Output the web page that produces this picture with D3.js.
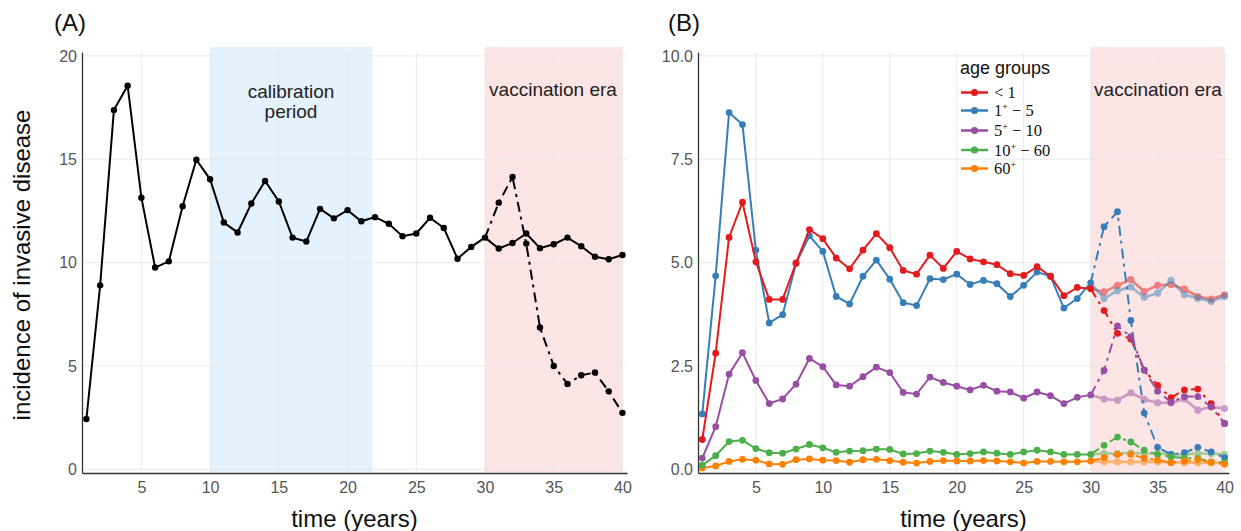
<!DOCTYPE html>
<html><head><meta charset="utf-8">
<script src="https://cdn.jsdelivr.net/npm/d3@7"></script>
<style>body{margin:0;background:#fff}svg{display:block}</style>
</head><body>
<svg id="c" width="1241" height="531"></svg>
<script>
const years = d3.range(1, 41);
const vacYears = d3.range(30, 41);
const xTicks = [5, 10, 15, 20, 25, 30, 35, 40];
const yTicksA = [0, 5, 10, 15, 20];
const yTicksB = [0, 2.5, 5, 7.5, 10];

// Panel A: total incidence
const totalBase = [2.43, 8.9, 17.38, 18.56, 13.14, 9.76, 10.06, 12.73, 14.98, 14.03,
  11.94, 11.46, 12.86, 13.95, 12.96, 11.21, 11.02, 12.6, 12.14, 12.54,
  12.0, 12.2, 11.88, 11.28, 11.41, 12.17, 11.68, 10.19, 10.76, 11.21,
  10.68, 10.95, 11.41, 10.7, 10.89, 11.21, 10.79, 10.28, 10.16, 10.37];
const totalVac = [11.21, 12.9, 14.14, 10.92, 6.86, 5.0, 4.13, 4.55, 4.68, 3.77, 2.73];

// Panel B: age groups (years 1-40 without vaccination; years 30-40 with vaccination)
const groupNames = ["<1", "1+-5", "5+-10", "10+-60", "60+"];
const groupColors = ["#e41a1c", "#377eb8", "#984ea3", "#4daf4a", "#ff7f00"];
const lt1 = [0.72, 2.81, 5.61, 6.46, 5.02, 4.11, 4.11, 4.99, 5.8, 5.58,
  5.11, 4.85, 5.3, 5.7, 5.36, 4.81, 4.72, 5.18, 4.86, 5.27,
  5.09, 5.02, 4.95, 4.73, 4.69, 4.9, 4.67, 4.2, 4.4, 4.37,
  4.29, 4.45, 4.59, 4.3, 4.45, 4.47, 4.36, 4.18, 4.12, 4.22];
const lt1Vac = [4.37, 3.84, 3.29, 3.15, 2.4, 2.03, 1.73, 1.92, 1.94, 1.59, 1.11];
const g1to5 = [1.34, 4.68, 8.63, 8.34, 5.3, 3.54, 3.74, 4.98, 5.65, 5.27,
  4.18, 4.0, 4.67, 5.06, 4.6, 4.03, 3.96, 4.61, 4.59, 4.72,
  4.47, 4.57, 4.49, 4.18, 4.45, 4.77, 4.67, 3.9, 4.13, 4.51,
  4.13, 4.32, 4.41, 4.16, 4.26, 4.57, 4.22, 4.14, 4.06, 4.18];
const g1to5Vac = [4.51, 5.87, 6.23, 3.6, 1.36, 0.53, 0.36, 0.4, 0.53, 0.42, 0.28];
const g5to10 = [0.27, 1.03, 2.3, 2.82, 2.15, 1.59, 1.7, 2.06, 2.68, 2.48,
  2.04, 2.01, 2.24, 2.47, 2.34, 1.86, 1.82, 2.23, 2.1, 2.01,
  1.92, 2.03, 1.89, 1.87, 1.72, 1.87, 1.78, 1.59, 1.74, 1.8,
  1.7, 1.67, 1.85, 1.69, 1.61, 1.61, 1.7, 1.43, 1.51, 1.47];
const g5to10Vac = [1.8, 2.39, 3.47, 3.21, 2.4, 1.89, 1.62, 1.76, 1.76, 1.51, 1.11];
const g10to60 = [0.1, 0.33, 0.67, 0.7, 0.5, 0.4, 0.39, 0.49, 0.6, 0.52,
  0.41, 0.44, 0.45, 0.49, 0.48, 0.37, 0.38, 0.44, 0.41, 0.36,
  0.38, 0.42, 0.39, 0.36, 0.42, 0.46, 0.42, 0.36, 0.36, 0.36,
  0.38, 0.38, 0.4, 0.38, 0.38, 0.36, 0.36, 0.38, 0.38, 0.36];
const g10to60Vac = [0.36, 0.58, 0.78, 0.66, 0.46, 0.36, 0.3, 0.27, 0.26, 0.18, 0.16];
const g60p = [0.03, 0.08, 0.19, 0.24, 0.22, 0.13, 0.12, 0.23, 0.25, 0.22,
  0.21, 0.17, 0.23, 0.24, 0.21, 0.17, 0.15, 0.19, 0.21, 0.2,
  0.2, 0.21, 0.2, 0.18, 0.15, 0.19, 0.19, 0.18, 0.18, 0.2,
  0.18, 0.18, 0.18, 0.18, 0.18, 0.17, 0.16, 0.16, 0.16, 0.15];
const g60pVac = [0.2, 0.28, 0.36, 0.36, 0.27, 0.22, 0.16, 0.2, 0.23, 0.17, 0.12];

const baseSeries = [lt1, g1to5, g5to10, g10to60, g60p];
const vacSeries = [lt1Vac, g1to5Vac, g5to10Vac, g10to60Vac, g60pVac];

const svg = d3.select("#c");
const FONT = "'Liberation Sans', Arial, Helvetica, sans-serif";
const SERIF = "'Liberation Serif', 'Times New Roman', serif";
const dashPat = "10,5,3,5";

function panel(cfg) {
  const g = svg.append("g");
  const x = d3.scaleLinear().domain([0.68, 40.33]).range([cfg.left, cfg.right]);
  const y = d3.scaleLinear().domain([cfg.ymax * -0.009, cfg.ymax * 1.0095]).range([cfg.bottom, cfg.top]);
  (cfg.shades || []).forEach(s => {
    g.append("rect").attr("x", x(s.x0)).attr("width", x(s.x1) - x(s.x0))
      .attr("y", cfg.top - 5).attr("height", cfg.bottom - cfg.top + 4)
      .attr("fill", s.color);
  });
  g.append("g").selectAll("line").data(cfg.yTicks).join("line")
    .attr("x1", cfg.left).attr("x2", cfg.right)
    .attr("y1", d => y(d)).attr("y2", d => y(d))
    .attr("stroke", "#e6e6e6").attr("stroke-width", 1).attr("opacity", 0.8);
  g.append("g").selectAll("line").data(xTicks).join("line")
    .attr("y1", cfg.top).attr("y2", cfg.bottom)
    .attr("x1", d => x(d)).attr("x2", d => x(d))
    .attr("stroke", "#e6e6e6").attr("stroke-width", 1).attr("opacity", 0.8);
  const ax = d3.axisBottom(x).tickValues(xTicks).tickSize(0).tickPadding(9);
  const gx = g.append("g").attr("transform", `translate(0,${cfg.bottom})`).call(ax);
  gx.select(".domain").attr("stroke", "#333").attr("stroke-width", 1.3);
  gx.selectAll("text").attr("font-family", FONT).attr("font-size", 16).attr("fill", "#555");
  const ay = d3.axisLeft(y).tickValues(cfg.yTicks).tickSize(0).tickPadding(5).tickFormat(cfg.yFmt);
  const gy = g.append("g").attr("transform", `translate(${cfg.left},0)`).call(ay);
  gy.select(".domain").attr("stroke", "#333").attr("stroke-width", 1.3);
  gy.selectAll("text").attr("font-family", FONT).attr("font-size", 16).attr("fill", "#555");
  g.append("text").attr("x", (cfg.left + cfg.right) / 2).attr("y", 527)
    .attr("text-anchor", "middle").attr("font-family", FONT).attr("font-size", 24)
    .attr("fill", "#111").text("time (years)");
  return {g, x, y};
}

// ---------- Panel A ----------
const A = panel({left: 82, right: 627, top: 52, bottom: 473, ymax: 20,
  yTicks: yTicksA, yFmt: d3.format("d"),
  shades: [{x0: 10, x1: 21.8, color: "#e3f2fd"}, {x0: 30, x1: 40, color: "#fce5e4"}]});
const lineA = d3.line().x(d => A.x(d[0])).y(d => A.y(d[1]));
const ptsBase = years.map((t, i) => [t, totalBase[i]]);
const ptsVac = vacYears.map((t, i) => [t, totalVac[i]]);
A.g.append("path").attr("d", lineA(ptsVac)).attr("fill", "none").attr("stroke", "#000")
  .attr("stroke-width", 2).attr("stroke-dasharray", dashPat);
A.g.append("path").attr("d", lineA(ptsBase)).attr("fill", "none").attr("stroke", "#000").attr("stroke-width", 2);
A.g.append("g").selectAll("circle").data(ptsBase.concat(ptsVac.slice(1))).join("circle")
  .attr("cx", d => A.x(d[0])).attr("cy", d => A.y(d[1])).attr("r", 3.2).attr("fill", "#000");
A.g.append("text").attr("x", 291).attr("y", 98).attr("text-anchor", "middle")
  .attr("font-family", FONT).attr("font-size", 19).attr("fill", "#222").text("calibration");
A.g.append("text").attr("x", 291).attr("y", 118).attr("text-anchor", "middle")
  .attr("font-family", FONT).attr("font-size", 19).attr("fill", "#222").text("period");
A.g.append("text").attr("x", 553).attr("y", 96).attr("text-anchor", "middle")
  .attr("font-family", FONT).attr("font-size", 19).attr("fill", "#222").text("vaccination era");
svg.append("text").attr("x", 54).attr("y", 31).attr("font-family", FONT).attr("font-size", 24)
  .attr("fill", "#111").text("(A)");
svg.append("text").attr("transform", "translate(30,265) rotate(-90)").attr("text-anchor", "middle")
  .attr("font-family", FONT).attr("font-size", 24).attr("fill", "#111").text("incidence of invasive disease");

// ---------- Panel B ----------
const B = panel({left: 698, right: 1229, top: 52, bottom: 473, ymax: 10,
  yTicks: yTicksB, yFmt: d3.format(".1f"),
  shades: [{x0: 30, x1: 40, color: "#fce5e4"}]});
const lineB = d3.line().x(d => B.x(d[0])).y(d => B.y(d[1]));
baseSeries.forEach((s, k) => {
  const pts = years.map((t, i) => [t, s[i]]).filter(d => d[0] >= 30);
  const gg = B.g.append("g").attr("opacity", 0.5);
  gg.append("path").attr("d", lineB(pts)).attr("fill", "none").attr("stroke", groupColors[k]).attr("stroke-width", 2.6);
  gg.selectAll("circle").data(pts.slice(1)).join("circle")
    .attr("cx", d => B.x(d[0])).attr("cy", d => B.y(d[1])).attr("r", 3.6).attr("fill", groupColors[k]);
});
vacSeries.forEach((s, k) => {
  const pts = vacYears.map((t, i) => [t, s[i]]);
  B.g.append("path").attr("d", lineB(pts)).attr("fill", "none").attr("stroke", groupColors[k])
    .attr("stroke-width", 2).attr("stroke-dasharray", dashPat);
  B.g.append("g").selectAll("circle").data(pts.slice(1)).join("circle")
    .attr("cx", d => B.x(d[0])).attr("cy", d => B.y(d[1])).attr("r", 3.4).attr("fill", groupColors[k]);
});
[4, 3, 2, 1, 0].forEach(k => {
  const pts = years.map((t, i) => [t, baseSeries[k][i]]).filter(d => d[0] <= 30);
  B.g.append("path").attr("d", lineB(pts)).attr("fill", "none").attr("stroke", groupColors[k]).attr("stroke-width", 2);
  B.g.append("g").selectAll("circle").data(pts).join("circle")
    .attr("cx", d => B.x(d[0])).attr("cy", d => B.y(d[1])).attr("r", 3.4).attr("fill", groupColors[k]);
});
B.g.append("text").attr("x", 1158).attr("y", 96).attr("text-anchor", "middle")
  .attr("font-family", FONT).attr("font-size", 19).attr("fill", "#222").text("vaccination era");
svg.append("text").attr("x", 668).attr("y", 31).attr("font-family", FONT).attr("font-size", 24)
  .attr("fill", "#111").text("(B)");

// legend
const leg = svg.append("g");
leg.append("text").attr("x", 960).attr("y", 74).attr("font-family", FONT).attr("font-size", 18)
  .attr("fill", "#111").text("age groups");
const legY = [92.5, 110.5, 130.5, 150, 168.5];
const legParts = [
  [["< 1", false]],
  [["1", false], ["+", true], [" \u2212 5", false]],
  [["5", false], ["+", true], [" \u2212 10", false]],
  [["10", false], ["+", true], [" \u2212 60", false]],
  [["60", false], ["+", true]]
];
groupNames.forEach((name, k) => {
  const yy = legY[k];
  leg.append("line").attr("x1", 961).attr("x2", 988).attr("y1", yy).attr("y2", yy)
    .attr("stroke", groupColors[k]).attr("stroke-width", 2.5);
  leg.append("circle").attr("cx", 974.5).attr("cy", yy).attr("r", 3.6).attr("fill", groupColors[k]);
  const t = leg.append("text").attr("x", 994).attr("y", yy + 5.5).attr("font-family", SERIF)
    .attr("font-size", 16.5).attr("fill", "#111");
  legParts[k].forEach(([s, sup]) => {
    const ts = t.append("tspan").text(s);
    if (sup) ts.attr("font-size", 10).attr("dy", -6);
    else if (t.selectAll("tspan").size() > 1) ts.attr("dy", 6);
  });
});
</script>
</body></html>
